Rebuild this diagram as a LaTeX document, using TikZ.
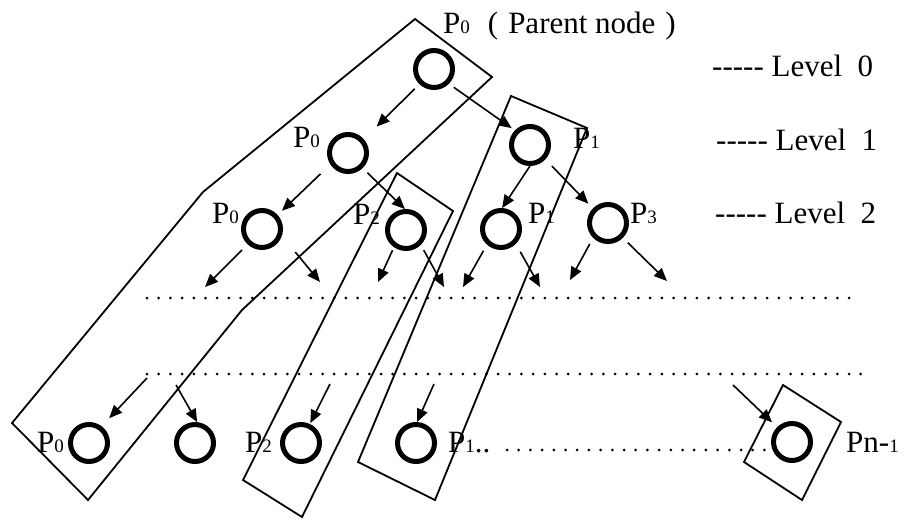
\documentclass[tikz,border=0pt]{standalone}
\usepackage{fontspec}
\setmainfont{Liberation Serif}
\usetikzlibrary{arrows.meta}
\newcommand{\subdig}[1]{{\fontsize{19}{19}\selectfont #1}}
\begin{document}
\begin{tikzpicture}[x=1pt,y=-1pt,
  proc/.style={circle,draw,line width=5pt,minimum size=37pt,inner sep=0pt},
  arr/.style={line width=1.6pt,-{Triangle[length=13pt,width=11pt]}},
  grp/.style={line width=1.8pt},
  dotline/.style={line width=3pt,line cap=round,dash pattern=on 0pt off 11.7pt},
  lbl/.style={anchor=base west,inner sep=0pt,font=\fontsize{31}{36}\selectfont}]
\useasboundingbox (0,0) rectangle (904,519);

% group outlines
\draw[grp] (415,19) -- (492,77) -- (242,310) -- (88,500) -- (12,423) -- (203,192) -- cycle;
\draw[grp] (397,173) -- (453,211) -- (302,517) -- (243,480) -- cycle;
\draw[grp] (511,96) -- (587,128) -- (435,500) -- (358,462) -- cycle;
\draw[grp] (783,385) -- (841,422) -- (802,500) -- (744,462) -- cycle;

% processes
\node[proc] (root) at (434,69) {};
\node[proc] (p0a) at (348,153) {};
\node[proc] (p1a) at (530,145) {};
\node[proc] (p0b) at (262,229) {};
\node[proc] (p2b) at (406,230) {};
\node[proc] (p1b) at (501,229) {};
\node[proc] (p3b) at (608,223) {};
\node[proc] (q0) at (89,443) {};
\node[proc] (q1) at (195,443) {};
\node[proc] (q2) at (301,443) {};
\node[proc] (q3) at (416,443) {};
\node[proc] (qn) at (792,442) {};

% labels
\node[lbl] (tparent) at (443,34) {P\subdig{0}\hspace{18pt}(\hspace{10pt}Parent node\hspace{10pt})};
\node[lbl] (tl0) at (712,77) {-{}-{}-{}-{}- Level\ \ 0};
\node[lbl] (tl1) at (716,150) {-{}-{}-{}-{}- Level\ \ 1};
\node[lbl] (tl2) at (715,223) {-{}-{}-{}-{}- Level\ \ 2};
\node[lbl] (lp0a) at (293,147) {P\subdig{0}};
\node[lbl] (lp0b) at (212,223) {P\subdig{0}};
\node[lbl] (lp2b) at (353,224) {P\subdig{2}};
\node[lbl] (lp1a) at (573,148) {P\subdig{1}};
\node[lbl] (lp1b) at (528,223) {P\subdig{1}};
\node[lbl] (lp3b) at (630,223) {P\subdig{3}};
\node[lbl] (lq0) at (37,452) {P\subdig{0}};
\node[lbl] (lq2) at (245,452) {P\subdig{2}};
\node[lbl] (lq3) at (448,452) {P\subdig{1}..};
\node[lbl] (lqn) at (846,452) {Pn-\subdig{1}};

% dotted lines
\coordinate (d1a) at (147,298); \coordinate (d1b) at (860,298);
\coordinate (d2a) at (147,374); \coordinate (d2b) at (867,374);
\coordinate (d3a) at (507,450); \coordinate (d3b) at (767,450);
\draw[dotline] (d1a) -- (d1b);
\draw[dotline] (d2a) -- (d2b);
\draw[dotline] (d3a) -- (d3b);

% tree arrows
\draw[arr,shorten <=6.6pt,shorten >=18pt] (root.226.5) -- (p0a.41.9);
\draw[arr,shorten <=6pt,shorten >=4pt] (root.-45) -- (p1a.136.6);
\draw[arr,shorten <=13.7pt,shorten >=6pt] (p0a.213.2) -- (p0b.42);
\draw[arr,shorten <=6.6pt] (p0a.-46.5) -- (p2b.93);
\draw[arr] (p1a.-90) -- (p1b.87);
\draw[arr,shorten <=9.4pt,shorten >=6.6pt] (p1a.-43.7) -- (p3b.136.5);

% free arrows below level 2
\coordinate (e1) at (205,287); \coordinate (e2) at (320,282);
\coordinate (e3) at (378,282); \coordinate (e4) at (444,287);
\coordinate (e5) at (463,287); \coordinate (e6) at (540,287);
\coordinate (e7) at (570,280); \coordinate (e8) at (667,281);
\draw[arr,shorten <=8pt] (p0b.-133.6) -- (e1);
\draw[arr,shorten <=21pt] (p0b.-19.3) -- (e2);
\draw[arr,shorten <=3.4pt] (p2b.-125) -- (e3);
\draw[arr,shorten <=6pt] (p2b.-45) -- (e4);
\draw[arr,shorten <=7pt] (p1b.-132) -- (e5);
\draw[arr,shorten <=9pt] (p1b.-45) -- (e6);
\draw[arr,shorten <=7pt] (p3b.-135) -- (e7);
\draw[arr,shorten <=7pt] (p3b.-45) -- (e8);

% arrows into the last level
\coordinate (s1) at (147,378); \coordinate (s2) at (176,385);
\coordinate (s3) at (330,384); \coordinate (s4) at (434,384);
\coordinate (s5) at (733,385);
\draw[arr,shorten >=11pt] (s1) -- (q0.53.8);
\draw[arr] (s2) -- (q1.84.6);
\draw[arr,shorten >=1pt] (s3) -- (q2.65.8);
\draw[arr] (s4) -- (q3.87);
\draw[arr,shorten >=7pt] (s5) -- (qn.135);
\end{tikzpicture}
\end{document}
